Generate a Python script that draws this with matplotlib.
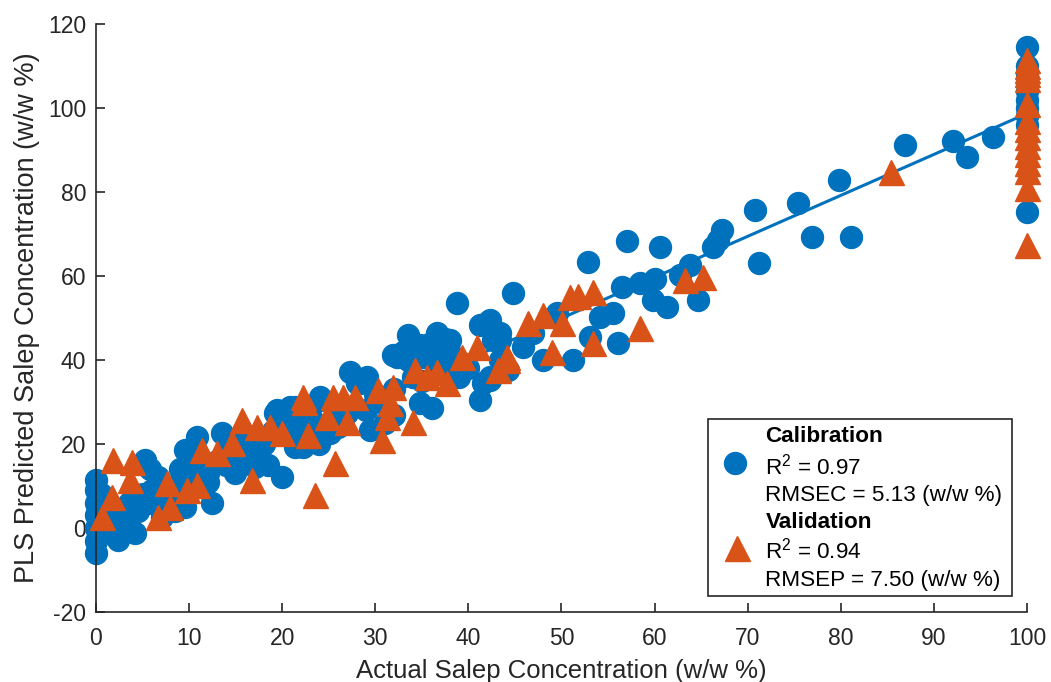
import matplotlib
matplotlib.use("Agg")
import matplotlib.pyplot as plt
from matplotlib.patches import Rectangle

plt.rcParams['font.family'] = ['Liberation Sans', 'DejaVu Sans']
plt.rcParams['mathtext.fontset'] = 'custom'
plt.rcParams['mathtext.rm'] = 'Liberation Sans'
plt.rcParams['mathtext.it'] = 'Liberation Sans:italic'
plt.rcParams['mathtext.bf'] = 'Liberation Sans:bold'
plt.rcParams['axes.unicode_minus'] = False

# calibration set (actual, predicted)
cal_x = [0, 0, 0, 0, 0, 0, 0, 0.5, 1, 1.2, 1.5, 2.4, 3.1, 3.5, 4.2, 4.5, 5, 5.3, 5.8,
         6.7, 6, 7.1, 7.5, 8.2, 8.5, 9.6, 9.6, 9, 10.8, 10.5, 11, 12.5, 12, 13.5, 13,
         14.9, 14, 15.5, 16, 17.1, 17.5, 18.5, 19, 20, 19.2, 20.5, 21.4, 21.4, 22.2, 22,
         23, 24.1, 25.1, 24, 25, 26, 27.3, 28, 29.1, 29.4, 29, 30, 31.9, 33, 33.5, 34.8,
         35, 36.6, 36.6, 37, 37.5, 38.8, 38, 39, 40, 41.2, 41.2, 42.1, 42.6, 42.3, 43.4,
         43.4, 44.3, 44.8, 46.9, 48, 49.5, 51.2, 53.1, 54.1, 55.5, 56.1, 56.5, 57, 52.9,
         58.4, 60, 59.8, 61.3, 60.6, 62.7, 63.8, 64.7, 66.3, 67.2, 66.8, 70.8, 71.2, 75.4,
         76.9, 79.8, 81.1, 86.9, 92.1, 93.6, 96.3, 33.5, 34.8, 36, 38, 36.1, 32, 31,
         42.3, 32.3, 33.4, 35.1, 38, 43.4, 45.9, 28.4, 24.1, 19.4, 20.8, 42.3, 41.6, 37,
         39.5, 34, 32, 30, 27, 26, 23, 21, 18, 16, 14, 12, 10, 8, 6, 4, 2, 3, 1,
         100, 100, 100, 100, 100, 100, 100, 100, 100, 100]
cal_y = [11.4, 9, 6, 3, 0, -3, -6, 8, 6.7, 2, -1, -2.9, 2.6, 6, -1.2, 4, 8, 16.2, 14,
         12.1, 6, 2.6, 8, 9.8, 4, 5, 18.6, 14, 21.7, 11, 15, 6, 13, 22.6, 16,
         13.1, 19, 16, 22, 14.5, 19, 15, 23, 12.1, 27.4, 24, 28.8, 19.3, 19.3, 25,
         27, 30.5, 22.6, 20, 25, 28, 37.1, 34.5, 36, 23.3, 28, 32, 41.2, 41.9, 40, 29.8,
         35, 46.4, 42.4, 38, 45, 53.6, 40, 36, 38, 30.5, 48.3, 49, 44.8, 35.2, 40,
         46.4, 37.6, 56, 46.4, 40, 51.2, 40, 45.5, 50.2, 51.2, 44, 57.4, 68.3, 63.3,
         58.3, 59.3, 54.3, 52.6, 66.9, 60.2, 62.6, 54.3, 66.9, 71, 68.6, 75.7, 63.1, 77.4,
         69.3, 82.9, 69.3, 91.2, 92.1, 88.3, 93.1, 46, 43.6, 44, 44.8, 28.5, 27, 25,
         49.5, 40.7, 42.4, 40.7, 41.7, 44.8, 43.1, 34.5, 31.2, 28.1, 28.8, 36, 34.5, 43,
         39, 36, 33, 30, 27.5, 24, 24, 22, 20, 17, 15, 11, 9, 7, 9, 7, 4, -1, 1,
         114.5, 110, 108, 106, 104, 102, 100, 98, 96, 75.2]

# validation set (actual, predicted)
val_x = [1.8, 3.9, 3.7, 1.7, 0.6, 7.6, 6.7, 7.9, 9.8, 10.8, 11.4, 13, 14.6, 15.7, 17.3,
         18.7, 20, 16.8, 22.3, 22.2, 25.5, 26.5, 27.8, 30.3, 31.9, 34.3, 35.6, 36.6, 37.7,
         39.3, 40.9, 43.2, 44.1, 24.8, 27, 22.8, 31.3, 34, 30.7, 25.7, 23.5, 31.6,
         46.4, 48, 50.1, 49, 53.4, 44.1, 50.9, 51.8, 53.4, 58.4, 63.3, 65.2, 85.4,
         100, 100, 100, 100, 100, 100, 100, 100, 100, 100, 100, 100, 100, 100, 100]
val_y = [16.2, 15.7, 11.4, 7.4, 2.6, 10.7, 2.6, 5, 9, 10.2, 18.6, 17.9, 20.2, 25.7, 24,
         24, 22.6, 11.4, 30, 31.2, 31.2, 31.2, 31.2, 32.9, 33.6, 37.6, 36, 37.1, 34.5,
         40.7, 43.1, 37.6, 40.7, 26.4, 25.2, 22.1, 26.4, 25.2, 21, 15.5, 7.9, 29.8,
         48.8, 50.7, 48.8, 41.9, 44, 40, 55, 55.3, 56.2, 47.6, 59, 59.8, 84.8,
         111.4, 110, 109, 108, 107, 101, 97, 95, 93, 91, 89, 87, 85, 81, 67.5]

# regression line end points
fit_x = [0, 100]
fit_y = [1.2, 98.7]

blue = '#0072BD'
orange = '#D95319'
dark = '#262626'

fig = plt.figure(figsize=(10.51, 6.82), dpi=100)
ax = fig.add_axes([0.0913, 0.1026, 0.8859, 0.8622])

ax.plot(fit_x, fit_y, color=blue, lw=2.2, zorder=1)
ax.plot(cal_x, cal_y, 'o', color=blue, ms=15.8, mec=blue, zorder=2, clip_on=False)
ax.plot(val_x, val_y, '^', color=orange, ms=18, mec=orange, zorder=3, clip_on=False)

ax.set_xlim(0, 100)
ax.set_ylim(-20, 120)
ax.set_xticks(range(0, 101, 10))
ax.set_yticks(range(-20, 121, 20))
for s in ['top', 'right']:
    ax.spines[s].set_visible(False)
for s in ['left', 'bottom']:
    ax.spines[s].set_color(dark)
    ax.spines[s].set_linewidth(1.2)
ax.tick_params(direction='in', length=6.5, width=1.2, color=dark,
               labelcolor=dark, labelsize=16.5)
ax.tick_params(axis='x', pad=11)
ax.tick_params(axis='y', pad=7)

ax.set_xlabel('Actual Salep Concentration (w/w %)', fontsize=18.5, color=dark, labelpad=6)
ax.set_ylabel('PLS Predicted Salep Concentration (w/w %)', fontsize=19.5, color=dark, labelpad=6)

# legend box drawn by hand
ax.add_patch(Rectangle((0.657, 0.027), 0.327, 0.301, transform=ax.transAxes,
                       facecolor='white', edgecolor=dark, lw=1.2, zorder=5))
ax.plot([0.686], [0.253], 'o', color=blue, ms=15.8, transform=ax.transAxes, zorder=6)
ax.plot([0.689], [0.109], '^', color=orange, ms=18, transform=ax.transAxes, zorder=6)
lines = [('Calibration', 'bold', 0.298), ('R$^2$ = 0.97', 'normal', 0.248),
         ('RMSEC = 5.13 (w/w %)', 'normal', 0.199), ('Validation', 'bold', 0.153),
         ('R$^2$ = 0.94', 'normal', 0.104), ('RMSEP = 7.50 (w/w %)', 'normal', 0.054)]
for txt, w, yy in lines:
    ax.text(0.719, yy, txt, transform=ax.transAxes, fontsize=16.2, fontweight=w,
            color='black', va='center', ha='left', zorder=6)

fig.savefig('out.png', dpi=100)
